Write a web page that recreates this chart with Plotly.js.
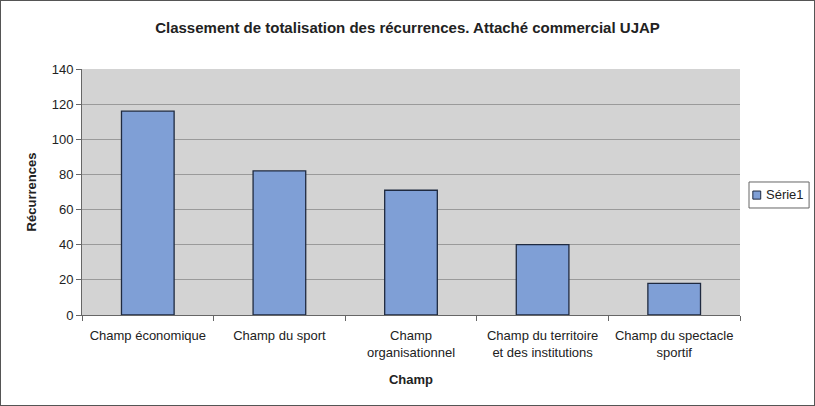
<!DOCTYPE html>
<html><head><meta charset="utf-8">
<script src="https://cdn.plot.ly/plotly-3.0.1.min.js"></script>
<style>
html,body{margin:0;padding:0;background:#fff;}
#frame{width:815px;height:406px;box-sizing:border-box;border:1px solid #555;overflow:hidden;}
#chart{width:813px;height:404px;}
</style></head>
<body><div id="frame"><div id="chart"></div></div>
<script>
const categories = ["Champ économique", "Champ du sport", "Champ<br>organisationnel", "Champ du territoire<br>et des institutions", "Champ du spectacle<br>sportif"];
const values = [116, 82, 71, 40, 18];
const seriesName = "Série1";
const yTicks = [0, 20, 40, 60, 80, 100, 120, 140];
const barColor = "#7f9fd6";
const barLine = "#1f2a40";

const trace = {
  type: "bar",
  x: categories,
  y: values,
  name: seriesName,
  showlegend: false,
  marker: {color: barColor, line: {color: barLine, width: 1.3}}
};
// legend box geometry in paper units (plot area: 658 x 246 px)
const lx0 = 1.0137, lx1 = 1.105, ly0 = 0.435, ly1 = 0.5407;
const layout = {
  width: 813, height: 404,
  margin: {l: 81, r: 74, t: 68, b: 90},
  paper_bgcolor: "#ffffff",
  plot_bgcolor: "#d3d3d3",
  font: {family: "Liberation Sans, Arial, sans-serif", size: 13, color: "#222"},
  title: {text: "<b>Classement de totalisation des récurrences. Attaché commercial UJAP</b>",
          font: {size: 15, color: "#222"}, x: 0.5, xanchor: "center", y: 0.935, yanchor: "middle"},
  bargap: 0.6,
  xaxis: {
    type: "category",
    title: {text: "<b>Champ</b>", font: {size: 13}, standoff: 16},
    showline: true, linecolor: "#666", linewidth: 1,
    ticks: "outside", tickson: "boundaries", ticklen: 5, tickcolor: "#666",
    ticklabelstandoff: 8,
    showgrid: false, tickfont: {size: 13}
  },
  yaxis: {
    title: {text: "<b>Récurrences</b>", font: {size: 13}, standoff: 12},
    range: [0, 140], tickvals: yTicks, ticktext: yTicks.map(String),
    showline: true, linecolor: "#666", linewidth: 1,
    ticks: "outside", ticklen: 5, tickcolor: "#666",
    gridcolor: "#9a9a9a", gridwidth: 1, zeroline: false,
    tickfont: {size: 13}
  },
  showlegend: false,
  shapes: [
    {type: "rect", xref: "paper", yref: "paper", x0: lx0, x1: lx1, y0: ly0, y1: ly1,
     line: {color: "#666", width: 1}, fillcolor: "#fff"},
    {type: "rect", xref: "paper", yref: "paper", x0: 1.0195, x1: 1.0315, y0: 0.471, y1: 0.504,
     line: {color: barLine, width: 1}, fillcolor: barColor}
  ],
  annotations: [
    {xref: "paper", yref: "paper", x: 1.036, y: 0.488, xanchor: "left", yanchor: "middle",
     text: seriesName, showarrow: false, font: {size: 13, color: "#222"}}
  ]
};
Plotly.newPlot("chart", [trace], layout, {displayModeBar: false, staticPlot: true});
</script></body></html>
